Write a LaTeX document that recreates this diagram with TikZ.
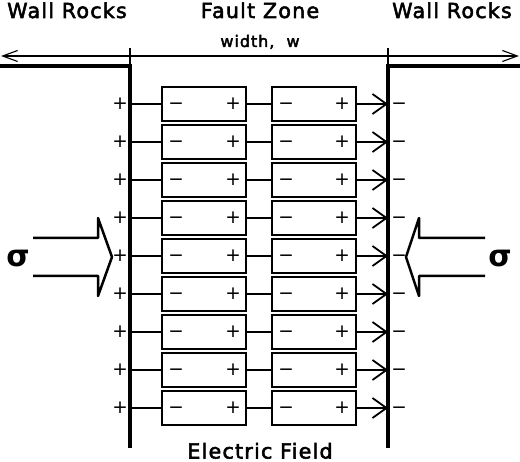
\documentclass[tikz,border=0pt]{standalone}
\usepackage{fontspec}
\setmainfont{DejaVu Sans}
\newfontfamily\labfont[LetterSpace=6,FakeBold=2.5]{DejaVu Sans}
\newfontfamily\sgnfont{DejaVu Sans}
\newfontfamily\sigfont{DejaVu Sans Bold}
\usetikzlibrary{arrows.meta}
\tikzset{
  rbarb/.tip={Straight Barb[length=14pt,width=20pt]},
  tbarb/.tip={Straight Barb[length=15pt,width=11pt]},
}
\begin{document}
\begin{tikzpicture}[x=1pt,y=-1pt,
  cell/.style={draw, line width=1.4pt, minimum width=84pt, minimum height=34pt, inner sep=0pt},
  lead/.style={line width=1.8pt},
  wall/.style={line width=3.3pt},
  thinline/.style={line width=1.1pt},
  sgn/.style={font=\sgnfont\fontsize{18.5}{19}\selectfont, inner sep=0pt, anchor=base},
  lab/.style={font=\labfont\fontsize{20.6}{22}\selectfont, inner sep=0pt, anchor=base},
  smlab/.style={font=\labfont\fontsize{16}{17}\selectfont, inner sep=0pt, anchor=base},
  sig/.style={font=\sigfont\fontsize{30}{30}\selectfont, inner sep=0pt, anchor=base},
  press/.style={line width=2.5pt, line join=round},
]
\useasboundingbox (0,0) rectangle (520,462);
% titles
\node[lab] (t1) at (67,18) {Wall Rocks};
\node[lab] (t2) at (260,18) {Fault Zone};
\node[lab] (t3) at (452,18) {Wall Rocks};
\node[smlab] (tw) at (260,47) {width,\ \ w};
\node[lab] (tf) at (260,458.5) {Electric Field};
% width arrow
\coordinate (wa) at (1,56);
\coordinate (wb) at (519,56);
\draw[thinline, {tbarb}-{tbarb}] (wa) -- (wb);
\coordinate (k1a) at (130,48); \coordinate (k1b) at (130,66);
\coordinate (k2a) at (388,48); \coordinate (k2b) at (388,66);
\draw[thinline] (k1a) -- (k1b);
\draw[thinline] (k2a) -- (k2b);
% walls
\coordinate (wl0) at (0,66); \coordinate (wl1) at (130,66); \coordinate (wl2) at (130,448);
\coordinate (wr0) at (520,66); \coordinate (wr1) at (388,66); \coordinate (wr2) at (388,448);
\draw[wall] (wl0) -- (wl1) -- (wl2);
\draw[wall] (wr0) -- (wr1) -- (wr2);
% rows
\foreach \i in {0,...,8} {
  \pgfmathsetmacro\yy{104+38*\i}
  \pgfmathsetmacro\yb{\yy+5.8}
  \node[cell] (a\i) at (204,\yy) {};
  \node[cell] (b\i) at (314,\yy) {};
  \coordinate (l\i) at (130,\yy);
  \coordinate (r\i) at (388,\yy);
  \node[sgn] (am\i) at (176,\yb) {−};
  \node[sgn] (ap\i) at (233,\yb) {+};
  \node[sgn] (bm\i) at (286,\yb) {−};
  \node[sgn] (bp\i) at (342,\yb) {+};
  \node[sgn] (lp\i) at (120,\yb) {+};
  \node[sgn] (rm\i) at (399,\yb) {−};
  \draw[lead] (l\i) -- (a\i.west);
  \draw[lead] (a\i.east) -- (b\i.west);
  \draw[lead, -{rbarb}] (b\i.east) -- (r\i);
}
% stress arrows
\draw[press] (33,238) -- (98,238) -- (98,218) -- (112,257) -- (98,296) -- (98,276) -- (33,276);
\draw[press] (485,238) -- (419,238) -- (419,218) -- (406,257) -- (419,296) -- (419,276) -- (485,276);
\node[sig] (s1) at (18,267) {σ};
\node[sig] (s2) at (500,267) {σ};
\end{tikzpicture}
\end{document}
